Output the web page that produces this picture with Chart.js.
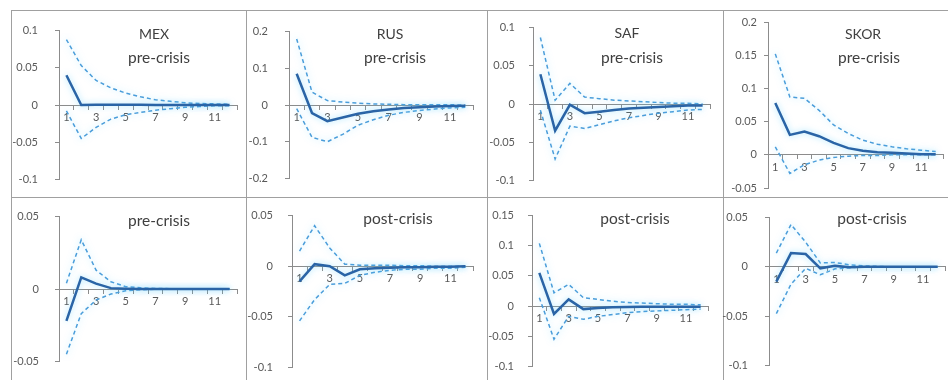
<!DOCTYPE html>
<html><head><meta charset="utf-8">
<script src="https://cdn.jsdelivr.net/npm/chart.js@4.4.1/dist/chart.umd.min.js"></script>
<style>
html,body{margin:0;padding:0;background:#fff;}
#wrap{position:relative;width:948px;height:380px;overflow:hidden;background:#fff;}
canvas{position:absolute;}
.frame{position:absolute;border:1px solid #a0a0a0;box-sizing:border-box;}
.t{position:absolute;font-family:Lato,"Noto Sans",sans-serif;font-size:14px;color:#404040;transform:translate(-50%,-50%);white-space:nowrap;}
.p{font-size:15.5px;}
</style></head><body><div id="wrap"></div>
<script>
// ---- data ----
const categories = ['1','2','3','4','5','6','7','8','9','10','11','12'];
const xTickLabels = ['1','','3','','5','','7','','9','','11',''];
const countryLabels = ['MEX','RUS','SAF','SKOR'];
const topPeriodLabels = ['pre-crisis','pre-crisis','pre-crisis','pre-crisis'];
const bottomPeriodLabels = ['pre-crisis','post-crisis','post-crisis','post-crisis'];

// top row
const mexTopTicks = [-0.1,-0.05,0,0.05,0.1];
const mexTopIRF   = [0.040,0.000,0.0005,0.0005,0.0003,0.0002,0.0001,0,0,0,0,0];
const mexTopUpper = [0.088,0.053,0.033,0.023,0.016,0.011,0.007,0.005,0.003,0.002,0.0015,0.001];
const mexTopLower = [-0.008,-0.045,-0.030,-0.019,-0.013,-0.010,-0.007,-0.005,-0.003,-0.002,-0.001,-0.001];

const rusTopTicks = [-0.2,-0.1,0,0.1,0.2];
const rusTopIRF   = [0.085,-0.022,-0.044,-0.034,-0.024,-0.017,-0.012,-0.008,-0.006,-0.004,-0.003,-0.002];
const rusTopUpper = [0.180,0.035,0.012,0.008,0.005,0.003,0.002,0.001,0.001,0.0005,0.0005,0];
const rusTopLower = [-0.010,-0.088,-0.100,-0.080,-0.055,-0.040,-0.028,-0.020,-0.015,-0.011,-0.008,-0.006];

const safTopTicks = [-0.1,-0.05,0,0.05,0.1];
const safTopIRF   = [0.039,-0.035,-0.001,-0.012,-0.010,-0.008,-0.006,-0.005,-0.004,-0.003,-0.002,-0.002];
const safTopUpper = [0.087,0.005,0.027,0.009,0.007,0.005,0.004,0.003,0.002,0.001,0.001,0];
const safTopLower = [-0.008,-0.072,-0.029,-0.032,-0.027,-0.022,-0.018,-0.015,-0.012,-0.010,-0.008,-0.007];

const skorTopTicks = [-0.05,0,0.05,0.1,0.15,0.2];
const skorTopIRF   = [0.078,0.030,0.035,0.028,0.018,0.010,0.006,0.004,0.003,0.002,0.001,0.001];
const skorTopUpper = [0.152,0.087,0.085,0.067,0.045,0.032,0.022,0.016,0.012,0.009,0.007,0.005];
const skorTopLower = [0.012,-0.028,-0.015,-0.008,-0.004,-0.002,-0.001,-0.001,0,0,0,0];

// bottom row
const mexBotTicks = [-0.05,0,0.05];
const mexBotIRF   = [-0.022,0.008,0.0037,0.0006,0.0002,0,0,0,0,0,0,0];
const mexBotUpper = [0.004,0.034,0.013,0.005,0.0016,0.0008,0.0004,0.0002,0,0,0,0];
const mexBotLower = [-0.045,-0.017,-0.0076,-0.0035,-0.0012,-0.0005,-0.0002,0,0,0,0,0];

const rusBotTicks = [-0.1,-0.05,0,0.05];
const rusBotIRF   = [-0.015,0.002,0.000,-0.009,-0.003,-0.002,-0.0015,-0.001,-0.001,-0.0005,-0.0005,0];
const rusBotUpper = [0.015,0.040,0.018,0.002,0.001,0.001,0.001,0.0005,0.0005,0,0,0];
const rusBotLower = [-0.054,-0.033,-0.018,-0.017,-0.009,-0.006,-0.004,-0.003,-0.003,-0.002,-0.002,-0.001];

const safBotTicks = [-0.1,-0.05,0,0.05,0.1,0.15];
const safBotIRF   = [0.055,-0.013,0.011,-0.005,-0.003,-0.002,-0.0015,-0.001,-0.001,-0.001,-0.001,-0.001];
const safBotUpper = [0.104,0.022,0.036,0.014,0.011,0.008,0.006,0.005,0.004,0.003,0.003,0.002];
const safBotLower = [0.014,-0.055,-0.017,-0.022,-0.017,-0.014,-0.011,-0.009,-0.008,-0.007,-0.006,-0.005];

const skorBotTicks = [-0.1,-0.05,0,0.05];
const skorBotIRF   = [-0.015,0.014,0.013,-0.0015,0.001,-0.0005,0,0,0,0,0,0];
const skorBotUpper = [0.014,0.043,0.025,0.004,0.0045,0.002,0.001,0.0005,0,0,0,0];
const skorBotLower = [-0.0475,-0.0175,-0.0015,-0.008,-0.002,-0.001,0,0,0,0,0,0];

// ---- layout / drawing ----
const wrap = document.getElementById('wrap');
const axisColor = '#8c8c8c';
const tickFont = {family: 'Lato, "Noto Sans", sans-serif', size: 11};
const tickColor = '#595959';

// frames
const fx = [11, 246, 487, 723, 960];
const fy = [10, 197, 400];
for (let r = 0; r < 2; r++) for (let c = 0; c < 4; c++) {
  const d = document.createElement('div');
  d.className = 'frame';
  d.style.left = fx[c] + 'px'; d.style.top = fy[r] + 'px';
  d.style.width = (fx[c+1] - fx[c] + 1) + 'px'; d.style.height = (fy[r+1] - fy[r] + 1) + 'px';
  wrap.appendChild(d);
}

function addText(txt, x, y, cls) {
  const d = document.createElement('div');
  d.className = 't' + (cls ? ' ' + cls : ''); d.textContent = txt;
  d.style.left = x + 'px'; d.style.top = y + 'px';
  wrap.appendChild(d);
}

const glow = {
  id: 'glow',
  beforeDatasetDraw(chart) { const ctx = chart.ctx; ctx.save(); ctx.shadowColor = 'rgba(90,205,255,0.55)'; ctx.shadowBlur = 6; },
  afterDatasetDraw(chart) { chart.ctx.restore(); }
};

function fmt(v) { return String(Math.round(v * 1000) / 1000); }

function makeChart(irf, up, lo, ticks, area, gap) {
  const [l, r, t, b] = area;
  const padL = 56, padR = 10, padT = 14, padB = 14;
  const c = document.createElement('canvas');
  c.width = r - l + padL + padR; c.height = b - t + padT + padB;
  c.style.left = (l - padL) + 'px'; c.style.top = (t - padT) + 'px';
  c.style.width = c.width + 'px'; c.style.height = c.height + 'px';
  wrap.appendChild(c);
  new Chart(c, {
    type: 'line',
    data: {
      labels: categories,
      datasets: [
        {data: irf, borderColor: '#2a64a6', borderWidth: 2.5, pointRadius: 0, tension: 0, fill: false},
        {data: up, borderColor: '#4a9dda', borderWidth: 1.5, borderDash: [4, 3], pointRadius: 0, tension: 0, fill: false},
        {data: lo, borderColor: '#4a9dda', borderWidth: 1.5, borderDash: [4, 3], pointRadius: 0, tension: 0, fill: false}
      ]
    },
    plugins: [glow],
    options: {
      responsive: false, animation: false, devicePixelRatio: 1,
      layout: {padding: {left: 0, right: padR, top: padT, bottom: padB}},
      plugins: {legend: {display: false}, tooltip: {enabled: false}},
      scales: {
        x: {
          type: 'category', offset: true, position: {y: 0},
          border: {display: true, color: axisColor, width: 1},
          grid: {drawOnChartArea: false, drawTicks: true, tickLength: 4, offset: true, color: axisColor},
          ticks: {autoSkip: false, maxRotation: 0, padding: 2, font: tickFont, color: tickColor,
                  callback: (v, i) => xTickLabels[i]}
        },
        y: {
          min: ticks[0], max: ticks[ticks.length - 1],
          afterBuildTicks: s => { s.ticks = ticks.map(v => ({value: v})); },
          afterFit: s => { s.width = padL; },
          border: {display: true, color: axisColor, width: 1},
          grid: {drawOnChartArea: false, drawTicks: true, tickLength: 4, color: axisColor},
          ticks: {padding: gap - 4, font: tickFont, color: tickColor, autoSkip: false, callback: v => fmt(v)}
        }
      }
    }
  });
}

makeChart(mexTopIRF, mexTopUpper, mexTopLower, mexTopTicks, [59, 237, 21, 189], 21);
makeChart(rusTopIRF, rusTopUpper, rusTopLower, rusTopTicks, [289, 473, 22, 188], 21);
makeChart(safTopIRF, safTopUpper, safTopLower, safTopTicks, [533, 710, 21, 187], 18);
makeChart(skorTopIRF, skorTopUpper, skorTopLower, skorTopTicks, [768, 943, 22, 188], 11);
makeChart(mexBotIRF, mexBotUpper, mexBotLower, mexBotTicks, [59, 237, 208, 370], 20);
makeChart(rusBotIRF, rusBotUpper, rusBotLower, rusBotTicks, [292, 473, 208, 375], 19);
makeChart(safBotIRF, safBotUpper, safBotLower, safBotTicks, [532, 708, 209, 373], 18);
makeChart(skorBotIRF, skorBotUpper, skorBotLower, skorBotTicks, [769, 945, 208, 375], 21);

const countryPos = [[154, 33], [390, 33], [627, 32], [863, 33]];
const topPeriodPos = [[159, 57], [395, 57], [632, 57], [869, 57]];
const botPeriodPos = [[159, 220], [398, 218], [635, 218], [872, 218]];
for (let i = 0; i < 4; i++) {
  addText(countryLabels[i], countryPos[i][0], countryPos[i][1]);
  addText(topPeriodLabels[i], topPeriodPos[i][0], topPeriodPos[i][1], 'p');
  addText(bottomPeriodLabels[i], botPeriodPos[i][0], botPeriodPos[i][1], 'p');
}
</script>
</body></html>
